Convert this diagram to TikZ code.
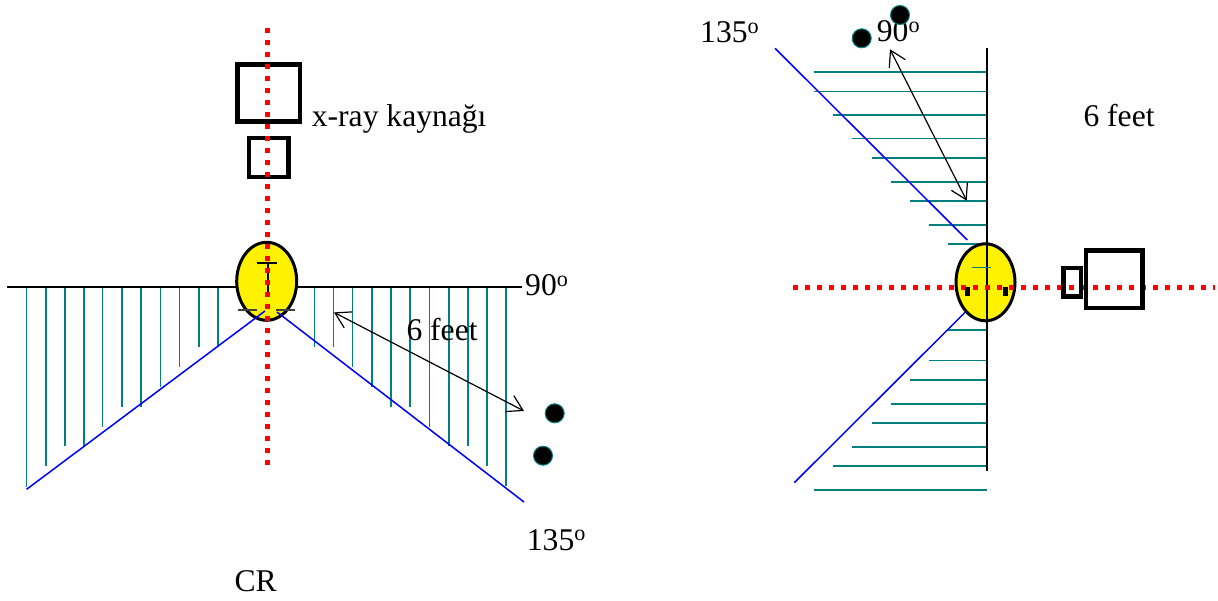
\documentclass[tikz,border=0pt]{standalone}
\usepackage{fontspec}
\setmainfont{Liberation Serif}
\usetikzlibrary{arrows.meta,shapes.geometric}
\definecolor{hatch}{RGB}{0,128,128}
\definecolor{dashgray}{RGB}{64,64,64}
\begin{document}
\begin{tikzpicture}[x=1pt,y=-1pt,
  lbl/.style={inner sep=0pt, font=\fontsize{31.6}{36}\selectfont, anchor=base west},
  hatchline/.style={draw=hatch, line width=1.6pt},
  beam/.style={draw=blue, line width=1.5pt},
  reddots/.style={draw=red, line width=5pt, dash pattern=on 5pt off 7pt},
  tube/.style={draw=black, line width=4.6pt, rectangle, inner sep=0pt},
  body/.style={ellipse, draw=black, fill=yellow, line width=3pt, inner sep=0pt},
  dot/.style={circle, fill=black, draw=hatch, line width=1pt, minimum size=19pt, inner sep=0pt},
  arr/.style={draw=black, line width=1.2pt, {Straight Barb[length=15pt,width=18pt]}-{Straight Barb[length=15pt,width=18pt]}},
  baseline/.style={draw=black, line width=2.2pt}
]
\useasboundingbox (0,0) rectangle (1218,601);

% ---------------- LEFT VIEW ----------------
\coordinate (hl1) at (7,287.2);
\coordinate (hl2) at (522,287.2);
\draw[baseline] (hl1) -- (hl2);

\foreach \x/\b in {26.5/487, 45.8/465.6, 64.7/446.3, 83.7/446.3, 102.6/426.7, 121.9/406.7, 141.2/406.7, 160.5/387, 179.4/367, 198.7/347, 218/347,
                   314.4/347, 333.3/347, 352.6/367, 371.9/387, 390.8/406.7, 410.1/406.7, 429.4/426.7, 448.7/446.3, 468/446.3, 486.9/465.6, 506.2/486}
  \draw[hatchline] (\x,288.3) -- (\x,\b);

\node[body, minimum width=60pt, minimum height=78pt] (bodyL) at (266.7,281.3) {};

\draw[draw=black, line width=2pt] (256.7,262.7) -- (276.7,262.7);
\draw[draw=black, line width=2pt] (267.5,262.7) -- (267.5,297);
\draw[draw=dashgray, line width=2pt] (238.3,310) -- (257.3,310);
\draw[draw=dashgray, line width=2pt] (276,310) -- (295,310);

\coordinate (bl1) at (265,311);
\coordinate (bl2) at (26.5,489.4);
\coordinate (br1) at (277,312);
\coordinate (br2) at (524,502);
\draw[beam] (bl1) -- (bl2);
\draw[beam] (br1) -- (br2);

\node[tube, minimum width=62.5pt, minimum height=57pt] (tubeL) at (268.75,93.3) {};
\node[tube, minimum width=39.5pt, minimum height=39pt] (collL) at (268.75,157.5) {};

\coordinate (rv1) at (267.5,28);
\coordinate (rv2) at (267.5,470);
\draw[reddots] (rv1) -- (rv2);

\coordinate (aL1) at (334,312.4);
\coordinate (aL2) at (524,411);
\draw[arr] (aL1) -- (aL2);

\node[lbl] (xray) at (311.7,126.7) {x-ray kaynağı};
\node[lbl] (deg90L) at (525,295.7) {90\textsuperscript{o}};
\node[lbl] (feetL) at (406.3,340.6) {6 feet};
\node[lbl] (deg135L) at (526.7,550) {135\textsuperscript{o}};
\node[lbl] (cr) at (234.3,591.7) {CR};

\node[dot] (dL1) at (554.7,413.3) {};
\node[dot] (dL2) at (543,455.7) {};

% ---------------- RIGHT VIEW ----------------
\foreach \y/\l in {72.3/814, 91.7/814, 115/833.3, 138.7/852.3, 158/871.7, 182/890.7, 201/910, 225/929.3, 244/948.3,
                   330/948.3, 360.7/929.3, 380/910, 404/890.7, 423/871.7, 446.7/852.3, 466/833.3, 490/814}
  \draw[hatchline] (\l,\y) -- (986.7,\y);

\coordinate (tl1) at (775,48.3);
\coordinate (tl2) at (967.3,240);
\coordinate (ll1) at (966.7,310.7);
\coordinate (ll2) at (794.3,482.7);
\draw[beam] (tl1) -- (tl2);
\draw[beam] (ll1) -- (ll2);

\node[body, minimum width=59pt, minimum height=77pt] (bodyR) at (985.5,282.3) {};

\coordinate (vl1) at (986.7,48.3);
\coordinate (vl2) at (986.7,470.7);
\draw[draw=black, line width=2pt] (vl1) -- (vl2);

\draw[hatchline] (972,267.7) -- (991,267.7);

\coordinate (rh1) at (793,287.3);
\coordinate (rh2) at (1215,287.3);
\draw[reddots] (rh1) -- (rh2);

\fill[black] (965,287.3) rectangle (970,296);
\fill[black] (1003.3,287.3) rectangle (1008.3,296);

\node[tube, minimum width=17.6pt, minimum height=28.3pt] (collR) at (1072,282.35) {};
\node[tube, minimum width=56.7pt, minimum height=57.4pt] (tubeR) at (1114.2,279.5) {};

\coordinate (aR1) at (890,49.3);
\coordinate (aR2) at (966.7,200.7);
\draw[arr] (aR1) -- (aR2);

\node[lbl] (deg135R) at (700,42.3) {135\textsuperscript{o}};
\node[lbl] (deg90R) at (876.7,41.7) {90\textsuperscript{o}};
\node[lbl] (feetR) at (1083.3,126.7) {6 feet};

\node[dot] (dR1) at (900,15) {};
\node[dot] (dR2) at (861.7,38.3) {};
\end{tikzpicture}
\end{document}
